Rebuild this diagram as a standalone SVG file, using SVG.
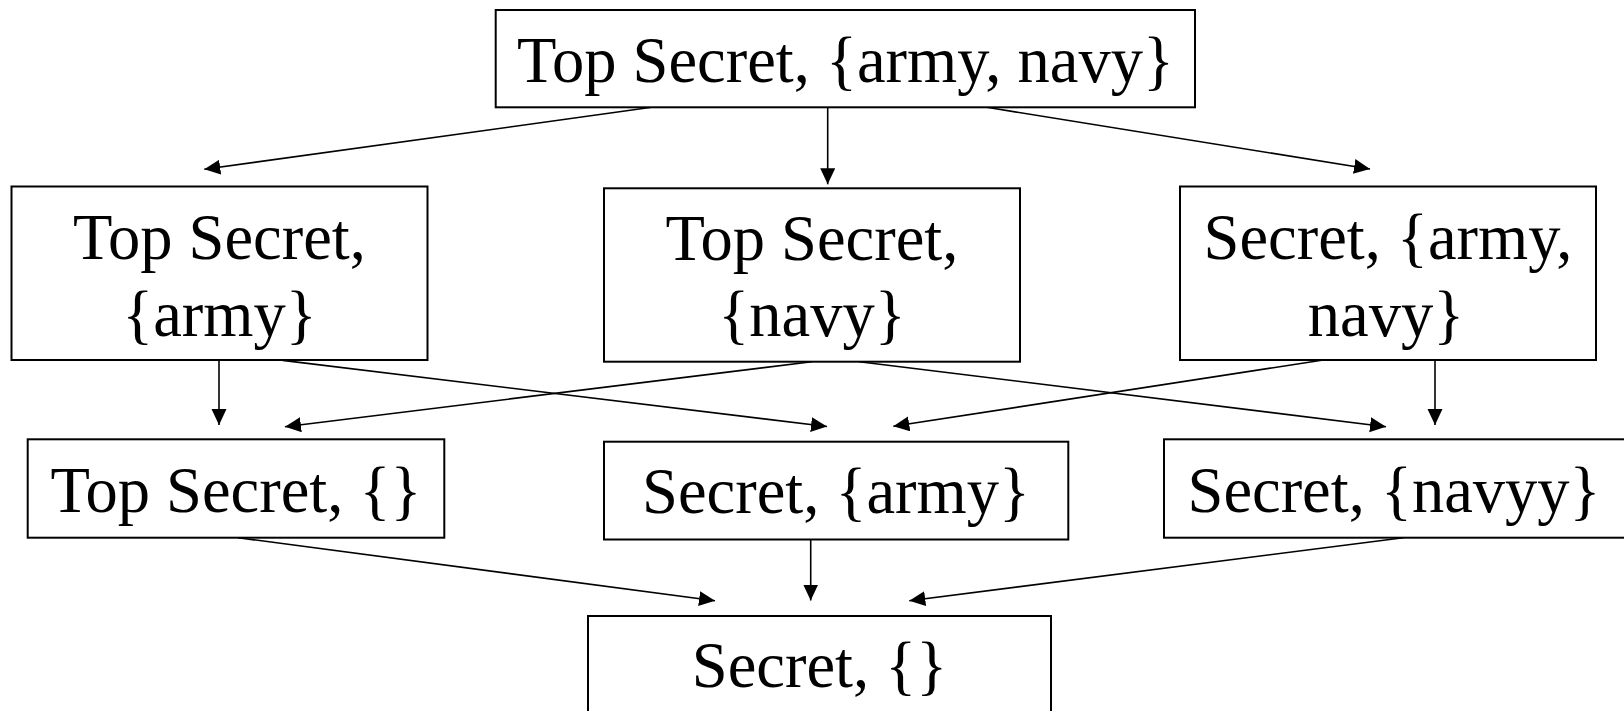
<svg xmlns="http://www.w3.org/2000/svg" width="1624" height="711" viewBox="0 0 1624 711">
<style>
.box{fill:#fff;stroke:#000;stroke-width:2}
.t{font-family:"Liberation Serif","Times New Roman",serif;font-size:64.5px;fill:#000;text-anchor:middle}
.c line{stroke:#000;stroke-width:1.6}
</style>
<defs>
<marker id="ah" markerUnits="userSpaceOnUse" markerWidth="17" markerHeight="16" refX="16" refY="7.5" orient="auto">
<path d="M0,0 L16,7.5 L0,15 Z" fill="#000"/>
</marker>
</defs>
<rect width="1624" height="711" fill="#fff"/>
<g class="c" id="connectors">
<line x1="651.7" y1="107.3" x2="204.3" y2="169.3" marker-end="url(#ah)"/>
<line x1="827.7" y1="107.3" x2="827.7" y2="184.3" marker-end="url(#ah)"/>
<line x1="986.7" y1="107.3" x2="1370" y2="169" marker-end="url(#ah)"/>
<line x1="219" y1="360" x2="219" y2="425" marker-end="url(#ah)"/>
<line x1="282.7" y1="360.4" x2="827" y2="426.5" marker-end="url(#ah)"/>
<line x1="811.7" y1="361.7" x2="285" y2="426.7" marker-end="url(#ah)"/>
<line x1="859.3" y1="361.7" x2="1386" y2="426.7" marker-end="url(#ah)"/>
<line x1="1323.3" y1="360" x2="893.3" y2="426.3" marker-end="url(#ah)"/>
<line x1="1435" y1="360" x2="1435" y2="425" marker-end="url(#ah)"/>
<line x1="238" y1="537.7" x2="715" y2="600.7" marker-end="url(#ah)"/>
<line x1="810.7" y1="539.5" x2="810.7" y2="600.5" marker-end="url(#ah)"/>
<line x1="1403.3" y1="537.7" x2="909.3" y2="600.7" marker-end="url(#ah)"/>
</g>
<g id="n_ts_army_navy">
<rect class="box" x="495.7" y="10" width="699.3" height="97.3"/>
<text class="t" x="845.5" y="82">Top Secret, {army, navy}</text>
</g>
<g id="n_ts_army">
<rect class="box" x="11.5" y="186.5" width="416" height="173.5"/>
<text class="t" x="219.5" y="259">Top Secret,</text>
<text class="t" x="219.5" y="335.5">{army}</text>
</g>
<g id="n_ts_navy">
<rect class="box" x="604" y="188.3" width="416" height="173.4"/>
<text class="t" x="812" y="259.5">Top Secret,</text>
<text class="t" x="812" y="336">{navy}</text>
</g>
<g id="n_s_army_navy">
<rect class="box" x="1180" y="186.5" width="416" height="173.5"/>
<text class="t" x="1388" y="259">Secret, {army,</text>
<text class="t" x="1386" y="335.5">navy}</text>
</g>
<g id="n_ts_empty">
<rect class="box" x="27.7" y="439.3" width="416.6" height="98.4"/>
<text class="t" x="236" y="511.7">Top Secret, {}</text>
</g>
<g id="n_s_army">
<rect class="box" x="604" y="441.7" width="464.3" height="97.8"/>
<text class="t" x="836" y="513.3">Secret, {army}</text>
</g>
<g id="n_s_navyy">
<rect class="box" x="1164" y="439.3" width="470" height="98.4"/>
<text class="t" x="1394" y="511.7">Secret, {navyy}</text>
</g>
<g id="n_s_empty">
<rect class="box" x="588" y="616" width="463" height="110"/>
<text class="t" x="819.5" y="687">Secret, {}</text>
</g>
</svg>
